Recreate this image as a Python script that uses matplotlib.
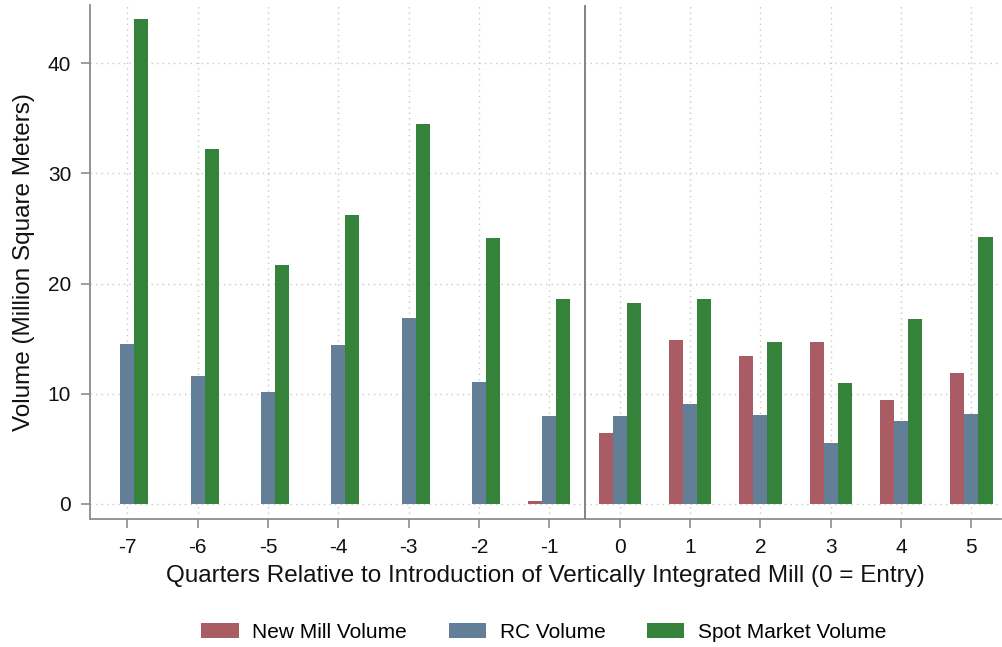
import numpy as np
import matplotlib
matplotlib.use("Agg")
import matplotlib.pyplot as plt

plt.rcParams['font.family'] = ['Liberation Sans', 'DejaVu Sans']
plt.rcParams['axes.unicode_minus'] = False

# Quarterly volumes around the entry of the vertically integrated mill
quarters = [-7, -6, -5, -4, -3, -2, -1, 0, 1, 2, 3, 4, 5]
new_mill = [0, 0, 0, 0, 0, 0, 0.3, 6.4, 14.9, 13.4, 14.7, 9.4, 11.9]
rc_volume = [14.5, 11.6, 10.2, 14.4, 16.9, 11.1, 8.0, 8.0, 9.1, 8.1, 5.5, 7.5, 8.2]
spot_volume = [44.0, 32.2, 21.7, 26.2, 34.5, 24.1, 18.6, 18.2, 18.6, 14.7, 11.0, 16.8, 24.2]

colors = {'new': '#a95c63', 'rc': '#637f98', 'spot': '#35833a'}
axis_gray = '#8c8c8c'

fig = plt.figure(figsize=(10.02, 6.47), dpi=100)
ax = fig.add_axes([0.0898, 0.1974, 0.9092, 0.795])

x = np.array(quarters, dtype=float)
w = 0.2
ax.bar(x - w, new_mill, width=w, color=colors['new'], label='New Mill Volume', zorder=3)
ax.bar(x, rc_volume, width=w, color=colors['rc'], label='RC Volume', zorder=3)
ax.bar(x + w, spot_volume, width=w, color=colors['spot'], label='Spot Market Volume', zorder=3)

# entry marker between quarter -1 and 0
ax.axvline(-0.5, color='#7a7a7a', linewidth=1.3, zorder=4)

ax.set_xlim(-7.53, 5.42)
ax.set_ylim(-1.39, 45.3)
ax.set_xticks(quarters)
ax.set_yticks([0, 10, 20, 30, 40])

ax.grid(True, color='#c8c8c8', linestyle=(0, (1, 3)), linewidth=1.0, zorder=0)

for side in ['top', 'right']:
    ax.spines[side].set_visible(False)
for side in ['left', 'bottom']:
    ax.spines[side].set_color(axis_gray)
    ax.spines[side].set_linewidth(1.3)

ax.tick_params(axis='both', direction='out', length=6.5, width=1.2, color=axis_gray,
               labelsize=15, labelcolor='#111111', pad=7)

ax.set_xlabel('Quarters Relative to Introduction of Vertically Integrated Mill (0 = Entry)',
              fontsize=17.5, color='#111111', labelpad=6)
ax.set_ylabel('Volume (Million Square Meters)', fontsize=17.5, color='#111111', labelpad=9)

fig.legend(loc='center', bbox_to_anchor=(0.543, 0.023), ncol=3, frameon=False,
           fontsize=15, handlelength=1.78, handleheight=0.77, handletextpad=0.67,
           columnspacing=2.0)

fig.savefig('out.png', dpi=100)
